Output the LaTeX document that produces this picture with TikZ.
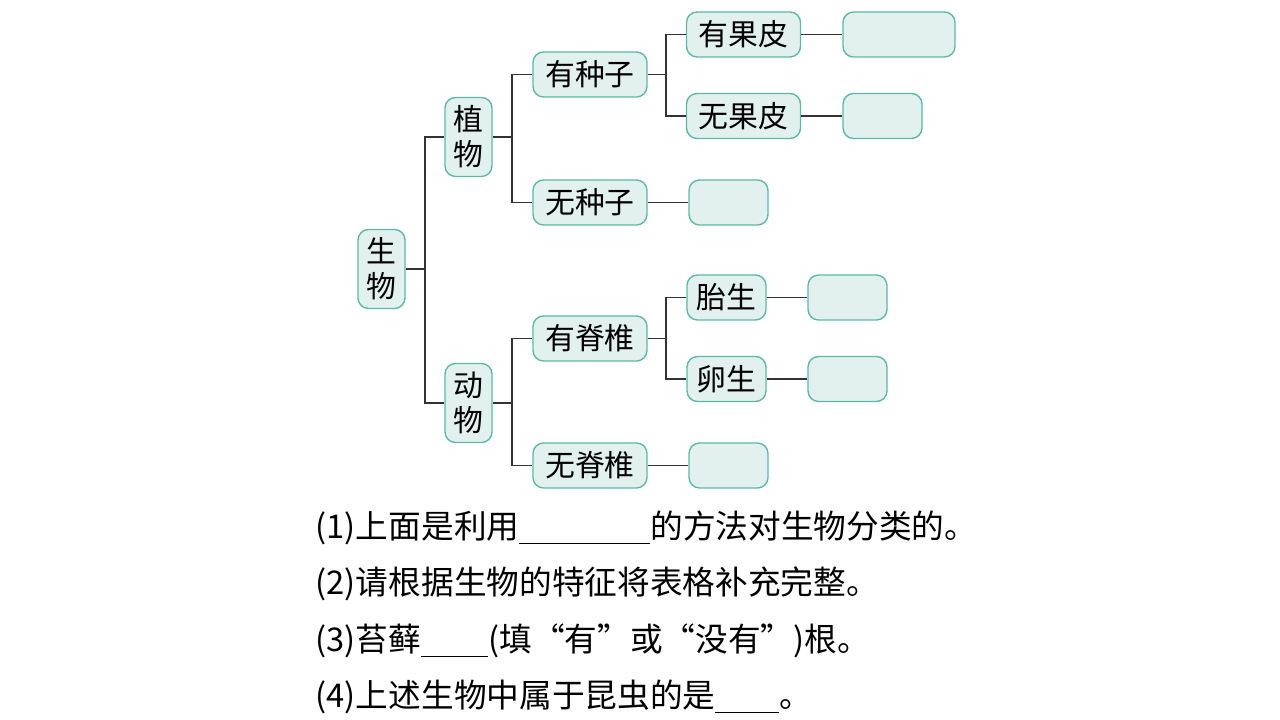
\documentclass[tikz,border=0pt]{standalone}
\usepackage{fontspec}
\newfontfamily\cjk{Noto Sans CJK SC}
\definecolor{boxfill}{HTML}{E3F1EE}
\definecolor{boxline}{HTML}{5DB8A8}
\begin{document}
\begin{tikzpicture}[x=1cm,y=-1cm,
    box/.style={draw=boxline, fill=boxfill, rounded corners=3pt, inner sep=0pt, align=center, font=\cjk\fontsize{8.5}{10}\selectfont},
    vbox/.style={box, minimum width=0.47cm, minimum height=0.79cm},
    hbox/.style={box, minimum width=1.14cm, minimum height=0.45cm},
    sbox/.style={box, minimum width=0.79cm, minimum height=0.45cm},
    line/.style={draw=black!80, line width=0.4pt},
    txt/.style={anchor=west, inner sep=0pt, font=\cjk\fontsize{9.3}{11}\selectfont}]
  \useasboundingbox (0,0) rectangle (12.8,7.2);
  % tree
  \node[vbox] (life) at (3.815,2.69) {生\\物};
  \node[vbox] (plant) at (4.685,1.37) {植\\物};
  \node[vbox] (animal) at (4.685,4.03) {动\\物};
  \node[hbox] (seed) at (5.9,0.745) {有种子};
  \node[hbox] (noseed) at (5.9,2.025) {无种子};
  \node[hbox] (vert) at (5.9,3.385) {有脊椎};
  \node[hbox] (novert) at (5.9,4.655) {无脊椎};
  \node[hbox] (peel) at (7.435,0.345) {有果皮};
  \node[hbox] (nopeel) at (7.435,1.16) {无果皮};
  \node[sbox] (vivi) at (7.265,2.975) {胎生};
  \node[sbox] (ovi) at (7.265,3.79) {卵生};
  % empty boxes
  \node[box, minimum width=1.12cm, minimum height=0.45cm] (e1) at (8.99,0.345) {};
  \node[sbox] (e2) at (8.825,1.16) {};
  \node[sbox] (e3) at (7.285,2.025) {};
  \node[sbox] (e4) at (8.475,2.975) {};
  \node[sbox] (e5) at (8.475,3.79) {};
  \node[sbox] (e6) at (7.285,4.655) {};
  % connectors
  \foreach \a/\b/\c/\x in {life/plant/animal/4.25, plant/seed/noseed/5.12, animal/vert/novert/5.12, seed/peel/nopeel/6.66, vert/vivi/ovi/6.66}{
    \draw[line] (\a.east) -- (\x,0 |- \a.east);
    \draw[line] (\b.west) -- (\x,0 |- \b.west) -- (\x,0 |- \c.west) -- (\c.west);
  }
  \foreach \a/\b in {peel/e1, nopeel/e2, noseed/e3, vivi/e4, ovi/e5, novert/e6}
    \draw[line] (\a) -- (\b);
  % questions
  \node[txt] (q1) at (3.15,5.28) {(1)上面是利用\underline{\hspace{1.31cm}}的方法对生物分类的。};
  \node[txt] (q2) at (3.15,5.84) {(2)请根据生物的特征将表格补充完整。};
  \node[txt] (q3) at (3.15,6.41) {(3)苔藓\underline{\hspace{0.67cm}}(填“有”或“没有”)根。};
  \node[txt] (q4) at (3.15,6.97) {(4)上述生物中属于昆虫的是\underline{\hspace{0.64cm}}。};
\end{tikzpicture}
\end{document}
